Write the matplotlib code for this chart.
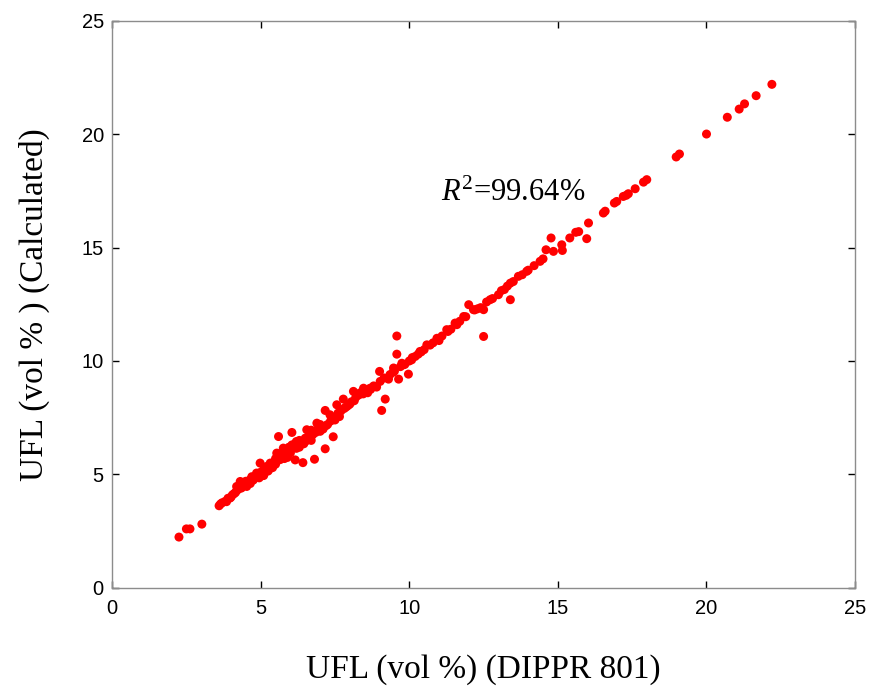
import matplotlib
matplotlib.use("Agg")
import matplotlib.pyplot as plt

plt.rcParams['mathtext.fontset'] = 'custom'
plt.rcParams['mathtext.rm'] = 'Liberation Serif'
plt.rcParams['mathtext.it'] = 'Liberation Serif:italic'

# UFL values: DIPPR 801 (x) vs calculated (y)
x_low = [2.25, 2.5, 2.62, 3.02]
y_low = [2.24, 2.6, 2.6, 2.81]

x_band1 = [3.6, 3.65, 3.7, 3.8, 3.85, 3.9, 3.97, 4.0, 4.05, 4.1, 4.15, 4.19, 4.2,
           4.25, 4.31, 4.3, 4.35, 4.4, 4.45, 4.53, 4.5, 4.55, 4.64, 4.65, 4.7, 4.7,
           4.75, 4.8, 4.86, 4.9, 4.9, 4.95, 4.98, 5.0]
y_band1 = [3.62, 3.7, 3.75, 3.81, 3.8, 3.95, 3.96, 4.0, 4.1, 4.15, 4.2, 4.47, 4.3,
           4.35, 4.69, 4.5, 4.4, 4.55, 4.6, 4.47, 4.7, 4.65, 4.76, 4.6, 4.8, 4.9,
           4.75, 4.85, 5.06, 4.9, 5.0, 4.85, 5.5, 5.1]

x_band2 = [5.05, 5.1, 5.1, 5.15, 5.2, 5.2, 5.25, 5.32, 5.3, 5.35, 5.4, 5.45, 5.5,
           5.5, 5.54, 5.6, 5.6, 5.65, 5.7, 5.76, 5.75, 5.8, 5.8, 5.85, 5.9, 5.9,
           5.95, 6.0, 6.05, 6.05, 6.1, 6.16, 6.15, 6.2, 6.2, 6.25, 6.3, 6.3, 6.35,
           6.42, 6.45, 6.5, 6.5]
y_band2 = [5.0, 5.2, 4.95, 5.1, 5.2, 5.35, 5.15, 5.5, 5.25, 5.4, 5.3, 5.55, 5.45,
           5.7, 5.94, 6.67, 5.9, 5.65, 5.8, 6.16, 5.95, 5.7, 6.1, 5.9, 5.75, 6.05,
           6.2, 5.95, 6.3, 6.85, 6.2, 5.64, 6.35, 6.15, 6.45, 6.3, 6.5, 6.2, 6.4,
           5.52, 6.35, 6.6, 6.45]

x_band3 = [6.55, 6.6, 6.65, 6.7, 6.7, 6.75, 6.81, 6.85, 6.89, 6.9, 6.95, 7.0, 7.0,
           7.05, 7.1, 7.17, 7.17, 7.2, 7.25, 7.33, 7.35, 7.44, 7.45, 7.5, 7.56,
           7.6, 7.65, 7.7, 7.78, 7.8, 7.85, 7.9, 7.95, 8.0]
y_band3 = [6.97, 6.6, 6.8, 6.5, 6.95, 6.75, 5.67, 6.85, 7.26, 6.95, 7.05, 6.9, 7.2,
           7.1, 7.0, 6.13, 7.82, 7.15, 7.2, 7.63, 7.35, 6.66, 7.5, 7.4, 8.07,
           7.7, 7.55, 7.8, 8.32, 7.9, 7.95, 8.0, 8.05, 8.1]

x_band4 = [8.05, 8.12, 8.15, 8.2, 8.3, 8.35, 8.46, 8.45, 8.5, 8.6, 8.68, 8.7, 8.8,
           8.9, 9.02, 9.0, 9.07, 9.19, 9.15, 9.3, 9.35, 9.47, 9.45, 9.5, 9.58,
           9.58, 9.64, 9.7, 9.75, 9.8, 9.85, 9.97, 10.0, 10.08, 10.1, 10.2, 10.3,
           10.36, 10.4, 10.5, 10.59]
y_band4 = [8.2, 8.66, 8.25, 8.4, 8.5, 8.6, 8.8, 8.55, 8.7, 8.6, 8.8, 8.75, 8.9,
           8.85, 9.1, 9.54, 7.82, 8.32, 9.25, 9.2, 9.4, 9.69, 9.5, 9.55, 11.1,
           10.3, 9.2, 9.75, 9.9, 9.83, 9.85, 9.42, 10.0, 10.05, 10.15, 10.2, 10.3,
           10.42, 10.4, 10.5, 10.71]

x_band5 = [10.7, 10.8, 10.93, 11.0, 11.1, 11.26, 11.3, 11.4, 11.54, 11.6, 11.7,
           11.83, 11.9, 12.0, 12.16, 12.2, 12.3, 12.4, 12.5, 12.5, 12.6, 12.72,
           12.8, 13.0, 13.1, 13.2, 13.3, 13.4, 13.4, 13.5, 13.67, 13.8, 13.95,
           14.0, 14.2, 14.4, 14.5]
y_band5 = [10.7, 10.8, 11.0, 10.9, 11.1, 11.38, 11.3, 11.4, 11.67, 11.6, 11.75,
           11.96, 11.95, 12.48, 12.26, 12.25, 12.3, 12.35, 12.26, 11.08, 12.6, 12.7,
           12.75, 12.92, 13.1, 13.15, 13.3, 13.43, 12.7, 13.5, 13.73, 13.8, 13.95,
           14.0, 14.2, 14.39, 14.5]

x_high = [14.6, 14.77, 14.85, 15.13, 15.15, 15.4, 15.6, 15.7, 15.97, 16.03, 16.53,
          16.59, 16.9, 16.98, 17.2, 17.3, 17.37, 17.6, 17.88, 17.99, 18.98, 19.09,
          20.0, 20.7, 21.1, 21.28, 21.67, 22.2]
y_high = [14.9, 15.42, 14.83, 15.12, 14.87, 15.42, 15.67, 15.7, 15.39, 16.08, 16.52,
          16.6, 16.96, 17.03, 17.25, 17.3, 17.37, 17.59, 17.88, 17.99, 18.99, 19.12,
          20.0, 20.74, 21.1, 21.33, 21.69, 22.19]

ufl_dippr = x_low + x_band1 + x_band2 + x_band3 + x_band4 + x_band5 + x_high
ufl_calc = y_low + y_band1 + y_band2 + y_band3 + y_band4 + y_band5 + y_high

ticks = [0, 5, 10, 15, 20, 25]

fig = plt.figure(figsize=(8.69, 6.86), dpi=100)
ax = fig.add_axes([0.129, 0.143, 0.855, 0.827])

ax.scatter(ufl_dippr, ufl_calc, s=42, color='#ff0000', edgecolors='none', zorder=3)

ax.set_xlim(0, 25)
ax.set_ylim(0, 25)
ax.set_xticks(ticks)
ax.set_yticks(ticks)
ax.tick_params(direction='in', length=5, width=1, color='black', top=True, right=True,
               labelsize=14.5, pad=6)
ax.tick_params(axis='x', pad=8)
for lab in ax.get_xticklabels() + ax.get_yticklabels():
    lab.set_fontfamily('Liberation Sans')
for sp in ax.spines.values():
    sp.set_color('#8c8c8c')
    sp.set_linewidth(1)

ax.set_xlabel('UFL (vol %) (DIPPR 801)', fontfamily='Liberation Serif', fontsize=24, labelpad=26)
ax.set_ylabel('UFL (vol % ) (Calculated)', fontfamily='Liberation Serif', fontsize=24, labelpad=23)

ax.text(11.07, 17.4, r'$R^{2}$=99.64%', fontfamily='Liberation Serif', fontsize=22,
        va='center', ha='left')

fig.savefig('out.png', dpi=100)
